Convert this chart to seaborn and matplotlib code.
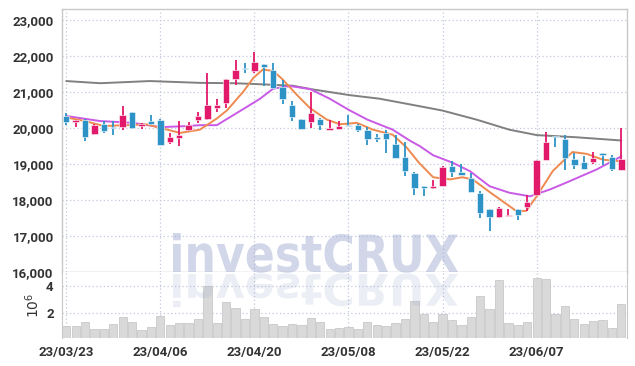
import numpy as np
import pandas as pd
import seaborn as sns
import matplotlib.pyplot as plt
from matplotlib.ticker import FuncFormatter
from matplotlib.textpath import TextPath
from matplotlib.patches import PathPatch
from matplotlib.font_manager import FontProperties
from matplotlib.transforms import Affine2D

# daily candles (trading days)
opens = [20325, 20170, 20210, 19820, 20120, 20030, 20020, 20440, 20050, 20190,
         20210, 19610, 19720, 19950, 20210, 20260, 20560, 20680, 21350, 21660,
         21580, 21760, 21600, 21130, 20630, 20240, 20150, 20260, 19940, 19970,
         20070, 20090, 19950, 19750, 19860, 19540, 19200, 18750, 18400, 18320,
         18380, 18950, 18770, 18610, 18190, 17760, 17530, 17550, 17740, 17810,
         18150, 19120, 19780, 19700, 19130, 19050, 19040, 19310, 19200, 18830]
highs = [20420, 20220, 20250, 20100, 20200, 20190, 20620, 20440, 20130, 20350,
         20240, 19870, 20200, 20170, 20450, 21510, 20800, 21350, 21880, 21790,
         22120, 21760, 21790, 21330, 20740, 20240, 21000, 20280, 20230, 20200,
         20370, 20100, 20030, 19840, 19950, 19810, 19600, 18780, 18400, 18540,
         18950, 19090, 18990, 18740, 18240, 17760, 17800, 17740, 17760, 18150,
         19120, 19890, 19780, 19800, 19290, 19230, 19330, 19310, 19240, 20000]
lows = [20075, 20020, 19630, 19800, 19870, 19790, 19940, 19980, 19980, 20080,
        19520, 19560, 19500, 19900, 20130, 20220, 20440, 20540, 21200, 21520,
        21510, 21150, 21090, 20650, 20190, 19980, 20000, 19940, 19930, 19960,
        20040, 19880, 19520, 19620, 19310, 19170, 18660, 18130, 18100, 18300,
        18380, 18630, 18680, 18220, 17500, 17150, 17500, 17550, 17430, 17680,
        18150, 19120, 19480, 18840, 18860, 18870, 18990, 18980, 18800, 18830]
closes = [20170, 20215, 19740, 20070, 19910, 20010, 20370, 20000, 20110, 20100,
          19520, 19740, 19800, 20080, 20330, 20630, 20630, 21350, 21600, 21640,
          21840, 21680, 21120, 20790, 20310, 19980, 20420, 20090, 20010, 20060,
          20050, 19950, 19700, 19700, 19700, 19170, 18800, 18320, 18320, 18380,
          18910, 18780, 18680, 18220, 17640, 17530, 17780, 17570, 17590, 17930,
          19120, 19620, 19740, 19170, 18960, 18870, 19170, 19260, 18850, 19130]
volumes = [1.04, 1.04, 1.35, 0.89, 0.89, 1.21, 1.72, 1.35, 0.77, 0.99,
           1.79, 1.14, 1.28, 1.28, 1.57, 3.99, 1.28, 2.80, 2.37, 1.57,
           2.30, 1.72, 1.21, 1.07, 1.21, 1.14, 1.64, 1.35, 0.85, 0.92,
           0.99, 0.85, 1.35, 1.14, 1.07, 1.28, 1.57, 2.88, 1.96, 1.35,
           1.96, 1.50, 1.14, 1.72, 3.24, 2.30, 4.40, 1.28, 1.14, 1.35,
           4.54, 4.47, 1.96, 2.51, 1.57, 1.21, 1.43, 1.50, 0.92, 2.66]

tick_pos = [0, 10, 20, 30, 40, 50]
tick_labels = ['23/03/23', '23/04/06', '23/04/20', '23/05/08', '23/05/22', '23/06/07']

# moving averages (candle index, price)
ma5_idx = [0, 2, 4, 6, 8.6, 10, 12.1, 14.2, 16, 17.1, 18.8, 19.9, 20.9, 22, 23, 24.5,
           25.9, 27.7, 29.1, 30.9, 32.6, 34.7, 36.2, 37.5, 39, 40.8, 42.1, 43.2, 45,
           46.4, 47.9, 48.9, 50, 51.7, 53.8, 55.3, 57, 59]
ma5_val = [20290, 20190, 20050, 20075, 20095, 20000, 19860, 19950, 20260, 20490, 21000,
           21390, 21620, 21580, 21345, 20920, 20550, 20230, 20100, 20140, 19950, 19810,
           19450, 19030, 18630, 18570, 18630, 18570, 18220, 17960, 17680, 17700, 18100,
           18800, 19330, 19280, 19120, 19070]
ma20_idx = [0, 3.6, 7.1, 10, 12.8, 14.2, 16, 18.8, 20.6, 22, 23.8, 25.9, 28, 30.1, 32,
            34.7, 36.5, 37.6, 39, 41.1, 42.9, 45, 47.1, 49.3, 51.4, 53.5, 56.4, 59]
ma20_val = [20330, 20190, 20140, 20020, 20050, 20075, 20075, 20520, 20810, 21090, 21160,
            21080, 20810, 20490, 20230, 19950, 19650, 19490, 19240, 19030, 18800, 18380,
            18200, 18100, 18290, 18520, 18850, 19210]
ma120_idx = [0, 3.6, 8.9, 14.2, 17.8, 19.9, 24.1, 25.9, 30.1, 33.3, 37.6, 40, 43.6,
             47.1, 50, 54.2, 59]
ma120_val = [21300, 21240, 21300, 21250, 21240, 21220, 21170, 21080, 20910, 20810,
             20600, 20480, 20230, 19950, 19800, 19740, 19650]

UP = '#e2196a'
DOWN = '#2d93c6'
GRID = '#c3c9dd'
TXT = '#333333'

sns.set_style('white')
plt.rcParams['font.family'] = ['Roboto', 'DejaVu Sans']

fig = plt.figure(figsize=(6.35, 3.66), dpi=100)
ax = fig.add_axes([62 / 635, 1 - 272 / 366, 565 / 635, 263 / 366])
axv = fig.add_axes([62 / 635, 1 - 338 / 366, 565 / 635, 66 / 366])

x = np.arange(len(closes))
df = pd.DataFrame({'x': x, 'open': opens, 'high': highs, 'low': lows,
                   'close': closes, 'volume': volumes})

# moving averages
for idx, val, col in [(ma120_idx, ma120_val, '#808080'),
                      (ma20_idx, ma20_val, '#c95ae6'),
                      (ma5_idx, ma5_val, '#ee8a50')]:
    sns.lineplot(x=idx, y=val, ax=ax, color=col, linewidth=1.4, zorder=3)

# candles
up = df['close'] >= df['open']
colors = np.where(up, UP, DOWN)
body_lo = df[['open', 'close']].min(axis=1)
body_h = (df['close'] - df['open']).abs().clip(lower=25)
ax.vlines(df['x'], df['low'], df['high'], colors=colors, linewidth=1.3, zorder=4)
ax.bar(df['x'], body_h, bottom=body_lo, width=0.68, color=colors,
       edgecolor='white', linewidth=0.4, zorder=5)

ax.set_xlim(-0.45, 59.6)
ax.set_ylim(16000, 23300)
ax.set_yticks(range(16000, 23001, 1000))
ax.yaxis.set_major_formatter(FuncFormatter(lambda v, p: f'{v:,.0f}'))
ax.set_xticks(tick_pos)
ax.set_xticklabels([])
ax.grid(True, color=GRID, linestyle=(0, (1, 2)), linewidth=0.9)
ax.set_axisbelow(True)
ax.set_xlabel('')
ax.set_ylabel('')
for s in ax.spines.values():
    s.set_color('#c8c8c8')
    s.set_linewidth(1.0)
ax.tick_params(length=0, labelsize=9.5, labelcolor=TXT, pad=6)
for t in ax.get_yticklabels():
    t.set_fontweight('bold')

# volume
sns.barplot(data=df, x='x', y='volume', ax=axv, native_scale=True, width=0.88,
            color='#d9d9d9', edgecolor='#c2c2c2', linewidth=0.5, saturation=1)
axv.set_xlim(-0.45, 59.6)
axv.set_ylim(0.2, 5.0)
axv.set_yticks([2, 4])
axv.set_yticklabels(['2', '4'])
axv.set_xticks(tick_pos)
axv.set_xticklabels(tick_labels)
axv.grid(True, color=GRID, linestyle=(0, (1, 2)), linewidth=0.9)
axv.set_axisbelow(True)
axv.set_xlabel('')
axv.set_ylabel('$10^6$', fontsize=10, color=TXT, rotation=90)
axv.yaxis.set_label_coords(-0.035, 0.5)
axv.spines['top'].set_visible(False)
axv.spines['bottom'].set_visible(False)
for side in ['left', 'right']:
    axv.spines[side].set_color('#c8c8c8')
axv.tick_params(length=0, labelsize=9.5, labelcolor=TXT, pad=6)
for t in axv.get_yticklabels() + axv.get_xticklabels():
    t.set_fontweight('bold')

# watermark with reflection
tp = TextPath((0, 0), 'investCRUX', size=100,
              prop=FontProperties(family='DejaVu Sans', weight='bold'))
ext = tp.get_extents()
sx = (458 - 173) / ext.width
sy = (133 - 94) / ext.y1
wm = Affine2D().translate(-ext.x0, 0).scale(sx, sy).translate(173, 94)
fig.add_artist(PathPatch(tp, transform=wm, facecolor='#9aa6d0', edgecolor='none',
                         alpha=0.45, zorder=10))
rf = Affine2D().translate(-ext.x0, 0).scale(sx, -sy * 0.85).translate(173, 92)
fig.add_artist(PathPatch(tp, transform=rf, facecolor='#9aa6d0', edgecolor='none',
                         alpha=0.18, zorder=10))

fig.savefig('out.png', dpi=100)
